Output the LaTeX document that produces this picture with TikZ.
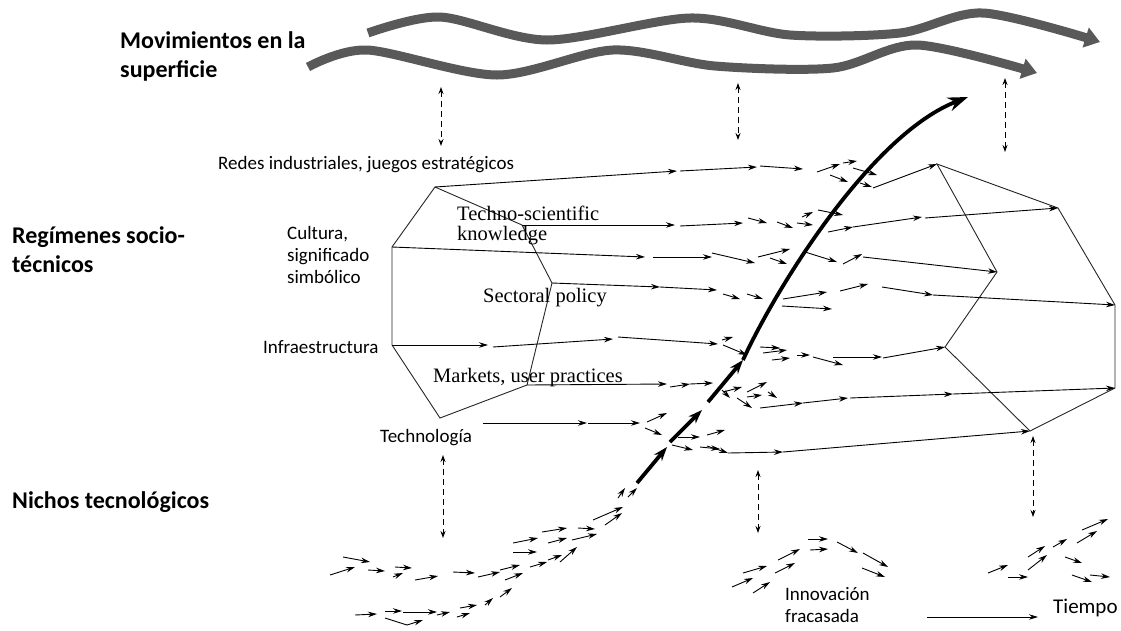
\documentclass[tikz,border=0pt]{standalone}
\usepackage{fontspec}
\setmainfont{Carlito}
\newfontfamily\tmsfont{Liberation Serif}
\usetikzlibrary{arrows.meta}

\begin{document}
\begin{tikzpicture}[x=1pt, y=-1pt,
    regime/.style={draw=black!85, line width=0.9pt},
    arr/.style={-{Stealth[length=9pt,width=5.5pt]}, line width=0.9pt},
    darr/.style={{Stealth[length=7pt,width=5pt]}-{Stealth[length=7pt,width=5pt]}, line width=0.9pt, dash pattern=on 6pt off 4pt},
    big/.style={-{Stealth[length=14pt,width=10pt]}, line width=3.8pt},
    wave/.style={-{Triangle[length=15pt,width=20pt]}, line width=9pt, black!65},
    lbl/.style={font=\fontsize{19}{22}\selectfont, anchor=base west, inner sep=0pt, align=left},
    ttl/.style={font=\fontsize{24}{29}\selectfont\bfseries, anchor=base west, inner sep=0pt, align=left},
    tms/.style={font=\tmsfont\fontsize{20.5}{20}\selectfont, anchor=base west, inner sep=0pt, align=left}
]
\useasboundingbox (0,0) rectangle (1121,630);

% level titles (base = last line)
\node[ttl] (landscape) at (120,77) {Movimientos en la\\superficie};
\node[ttl] (regime) at (12,272) {Regímenes socio-\\técnicos};
\node[ttl] (niches) at (12,508) {Nichos tecnológicos};

% landscape waves
\draw[wave] plot[smooth] coordinates {(368,33) (440,17) (547,40) (690,18) (790,35) (900,33) (983,13) (1100,42)};
\draw[wave] plot[smooth] coordinates {(308,67) (367,50) (497,75) (613,50) (715,66) (833,68) (917,45) (1037,73)};

% regime at start and at end
\coordinate (l1) at (435,187); \coordinate (l2) at (522,225); \coordinate (l3) at (552,283);
\coordinate (l4) at (527,385); \coordinate (l5) at (440,418); \coordinate (l6) at (392,345);
\coordinate (l7) at (392,247);
\coordinate (r1) at (937,164); \coordinate (r2) at (1058,208); \coordinate (r3) at (1115,305);
\coordinate (r4) at (1115,388); \coordinate (r5) at (1030,431); \coordinate (r6) at (945,347);
\coordinate (r7) at (997,272);
\coordinate (t0) at (483,423);
\draw[regime] (l1) -- (l2) -- (l3) -- (l4) -- (l5) -- (l6) -- (l7) -- cycle;
\draw[regime] (r1) -- (r2) -- (r3) -- (r4) -- (r5) -- (r6) -- (r7) -- cycle;

% dimension labels
\node[lbl] (redes) at (218,169) {Redes industriales, juegos estratégicos};
\node[lbl] (cultura) at (287,283) {Cultura,\\significado\\simbólico};
\node[lbl] (infra) at (263,353) {Infraestructura};
\node[lbl] (tecno) at (380,442) {Technología};
\node[tms] (science) at (457,240) {Techno-scientific\\knowledge};
\node[tms] (policy) at (483,302) {Sectoral policy};
\node[tms] (markets) at (433,382) {Markets, user practices};

% strands between the two regimes
\draw[arr] (l1) -- (677,171);
\foreach \x/\y/\u/\v in {680/171/757/167, 760/166/803/169, 817/172/840/164, 843/163/857/161, 830/175/848/182, 853/168/877/175, 860/183/872/187}
  \draw[arr] (\x,\y) -- (\u,\v);
\draw[arr] (873,188) -- (r1);

\draw[arr] (l2) -- (675,225);
\foreach \x/\y/\u/\v in {680/226/743/223, 748/218/767/223, 777/222/793/228, 797/223/813/225, 802/217/813/212, 818/210/843/215, 828/232/853/227, 853/227/922/217}
  \draw[arr] (\x,\y) -- (\u,\v);
\draw[arr] (925,218) -- (r2);

\draw[arr] (l7) -- (645,257);
\foreach \x/\y/\u/\v in {653/257/712/257, 712/253/755/263, 758/257/790/249, 770/258/787/264, 805/252/837/262, 843/264/862/254}
  \draw[arr] (\x,\y) -- (\u,\v);
\draw[arr] (863,257) -- (r7);

\draw[arr] (l3) -- (660,287);
\foreach \x/\y/\u/\v in {660/287/717/290, 723/294/740/299, 747/294/763/299, 783/299/827/292, 782/306/832/309, 840/291/868/284, 882/287/933/295}
  \draw[arr] (\x,\y) -- (\u,\v);
\draw[arr] (933,295) -- (r3);

\draw[arr] (l6) -- (488,345);
\foreach \x/\y/\u/\v in {493/347/613/339, 618/337/718/344, 722/340/733/337, 723/345/747/355, 760/347/780/348, 763/353/787/350, 772/360/790/358, 797/355/810/355, 813/357/843/365, 833/357/882/357}
  \draw[arr] (\x,\y) -- (\u,\v);
\draw[arr] (883,358) -- (r6);

\draw[arr] (l4) -- (667,384);
\foreach \x/\y/\u/\v in {670/387/690/384, 690/384/713/383, 723/392/742/387, 722/390/730/398, 747/392/767/382, 747/397/762/395, 768/392/777/398, 737/398/752/408, 760/408/803/403, 803/403/848/398, 850/398/953/394}
  \draw[arr] (\x,\y) -- (\u,\v);
\draw[arr] (953,394) -- (r4);

\draw[arr] (t0) -- (587,423);
\foreach \x/\y/\u/\v in {588/423/640/423, 647/422/667/413, 645/428/662/435, 672/445/693/450, 678/437/700/437, 707/435/725/430, 700/447/720/449, 707/446/728/453, 728/453/783/452}
  \draw[arr] (\x,\y) -- (\u,\v);
\draw[arr] (783,452) -- (r5);

% niche arrows
\foreach \x/\y/\u/\v in {330/575/355/567, 343/557/370/562, 368/570/385/571, 395/567/412/568, 393/577/403/573, 415/580/438/576, 453/572/475/573, 478/577/500/572, 500/570/520/565, 505/580/523/573, 513/543/538/538, 513/552/537/552, 530/567/547/562, 548/560/562/555, 560/562/577/547, 542/532/567/528, 548/543/567/538, 572/540/597/534, 578/528/595/529, 593/520/623/507, 605/525/622/513, 618/498/625/488, 628/497/637/488,
  355/615/377/614, 385/611/402/611, 403/612/437/612, 437/615/450/612, 457/617/470/613, 460/608/477/605, 485/605/493/598, 500/597/512/588}
  \draw[arr] (\x,\y) -- (\u,\v);
\draw[arr] (385,618) -- (407,625) -- (423,620);

% failed innovation
\foreach \x/\y/\u/\v in {732/587/753/578, 743/573/767/566, 753/593/770/582, 775/573/795/563, 778/560/800/549, 808/539/828/539, 810/550/828/549, 837/542/858/553, 863/553/888/567, 862/568/885/577}
  \draw[arr] (\x,\y) -- (\u,\v);

% later niche
\foreach \x/\y/\u/\v in {988/573/1008/565, 1008/577/1028/577, 1028/570/1047/555, 1028/557/1045/546, 1053/547/1067/539, 1077/543/1097/531, 1082/530/1108/519, 1065/557/1082/563, 1072/575/1092/582, 1090/575/1110/577}
  \draw[arr] (\x,\y) -- (\u,\v);

% breakthrough
\draw[big] (637,483) -- (667,447);
\draw[big] (670,442) -- (702,410);
\draw[big] (708,402) -- (743,360);
\draw[line width=3.8pt, -{Stealth[length=20pt,width=14pt]}] (743,360) .. controls (775,290) and (870,135) .. (968,97);

% links between levels
\draw[darr] (441,87) -- (441,146);
\draw[darr] (738,83) -- (738,140);
\draw[darr] (1005,78) -- (1005,152);
\draw[darr] (443,455) -- (443,538);
\draw[darr] (758,470) -- (758,533);
\draw[darr] (1033,436) -- (1033,517);

% bottom labels
\node[lbl] (fail) at (785,622) {Innovación\\fracasada};
\node[lbl, font=\fontsize{21}{22}\selectfont] (tiempo) at (1053,613) {Tiempo};
\coordinate (t1) at (927,617);
\draw[arr] (t1) -- (1038,617);
\end{tikzpicture}
\end{document}
